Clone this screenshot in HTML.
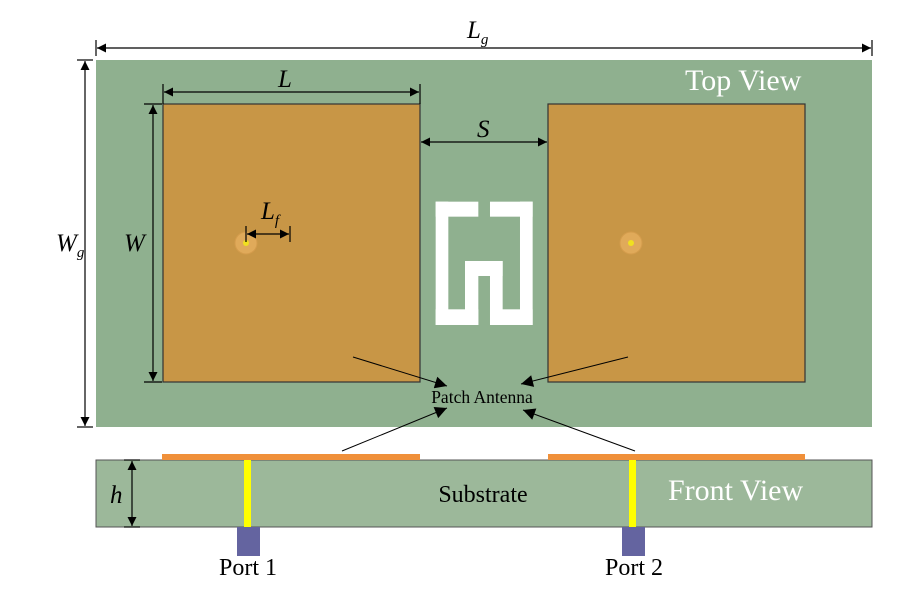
<!DOCTYPE html>
<html><head><meta charset="utf-8"><style>
html,body{margin:0;padding:0;background:#fff;}
svg{display:block;font-family:"Liberation Serif",serif;}
</style></head><body>
<svg width="900" height="601" viewBox="0 0 900 601" xmlns="http://www.w3.org/2000/svg">
<defs>
<marker id="a" viewBox="0 0 10 10" refX="10" refY="5" markerWidth="9" markerHeight="9" orient="auto-start-reverse" markerUnits="userSpaceOnUse"><path d="M0,0 L10,5 L0,10 z" fill="#000"/></marker>
<marker id="b" viewBox="0 0 10 10" refX="10" refY="5" markerWidth="14" markerHeight="12" orient="auto" markerUnits="userSpaceOnUse"><path d="M0,0 L10,5 L0,10 z" fill="#000"/></marker>
</defs>
<rect x="96" y="60" width="776" height="367" fill="#8fb08f"/>
<rect x="163" y="104" width="257" height="278" fill="#c89646" stroke="#333" stroke-width="1.2"/>
<rect x="548" y="104" width="257" height="278" fill="#c89646" stroke="#333" stroke-width="1.2"/>
<circle cx="246" cy="243" r="11" fill="#e0aa5a" stroke="#d49c4c"/>
<circle cx="246" cy="243" r="3" fill="#f0e020"/>
<circle cx="631" cy="243" r="11" fill="#e0aa5a" stroke="#d49c4c"/>
<circle cx="631" cy="243" r="3" fill="#f0e020"/>
<g transform="translate(420,190) scale(0.3333)" fill="#fff">
<rect x="47" y="35" width="128" height="45"/>
<rect x="210" y="35" width="128" height="45"/>
<rect x="47" y="35" width="38" height="370"/>
<rect x="300" y="35" width="38" height="370"/>
<rect x="47" y="358" width="128" height="47"/>
<rect x="210" y="358" width="128" height="47"/>
<rect x="135" y="213" width="40" height="192"/>
<rect x="210" y="213" width="38" height="192"/>
<rect x="135" y="213" width="113" height="45"/>
</g>
<g stroke="#000" stroke-width="1.2" fill="none">
<line x1="96" y1="40" x2="96" y2="56"/><line x1="872" y1="40" x2="872" y2="56"/>
<line x1="97" y1="48" x2="871" y2="48" marker-start="url(#a)" marker-end="url(#a)"/>
<line x1="77" y1="60" x2="93" y2="60"/><line x1="77" y1="427" x2="93" y2="427"/>
<line x1="85" y1="61" x2="85" y2="426" marker-start="url(#a)" marker-end="url(#a)"/>
<line x1="163" y1="84" x2="163" y2="104"/><line x1="420" y1="84" x2="420" y2="104"/>
<line x1="164" y1="92" x2="419" y2="92" marker-start="url(#a)" marker-end="url(#a)"/>
<line x1="144" y1="104" x2="162" y2="104"/><line x1="144" y1="382" x2="162" y2="382"/>
<line x1="153" y1="105" x2="153" y2="381" marker-start="url(#a)" marker-end="url(#a)"/>
<line x1="421" y1="142" x2="547" y2="142" marker-start="url(#a)" marker-end="url(#a)"/>
<line x1="246" y1="226" x2="246" y2="242"/><line x1="290" y1="226" x2="290" y2="242"/>
<line x1="247" y1="234" x2="289" y2="234" marker-start="url(#a)" marker-end="url(#a)"/>
</g>
<text x="467" y="38" font-size="25" font-style="italic">L<tspan font-size="15" dy="6">g</tspan></text>
<text x="56" y="251" font-size="25" font-style="italic">W<tspan font-size="15" dy="6">g</tspan></text>
<text x="278" y="87" font-size="25" font-style="italic">L</text>
<text x="124" y="251" font-size="25" font-style="italic">W</text>
<text x="477" y="137" font-size="25" font-style="italic">S</text>
<text x="261" y="219" font-size="25" font-style="italic">L<tspan font-size="15" dy="6">f</tspan></text>
<text x="685" y="90" font-size="30" fill="#fff">Top View</text>
<g stroke="#000" stroke-width="1" fill="none">
<line x1="353" y1="357" x2="447" y2="386" marker-end="url(#b)"/>
<line x1="628" y1="357" x2="521" y2="384" marker-end="url(#b)"/>
<line x1="342" y1="451" x2="447" y2="408" marker-end="url(#b)"/>
<line x1="635" y1="451" x2="523" y2="410" marker-end="url(#b)"/>
</g>
<text x="482" y="403" font-size="17.5" text-anchor="middle">Patch Antenna</text>
<rect x="96" y="460" width="776" height="67" fill="#9cb89a" stroke="#555" stroke-width="1"/>
<rect x="162" y="454" width="258" height="6" fill="#f0903a"/>
<rect x="548" y="454" width="257" height="6" fill="#f0903a"/>
<rect x="244" y="460" width="7" height="67" fill="#ffff00"/>
<rect x="629" y="460" width="7" height="67" fill="#ffff00"/>
<rect x="237" y="527" width="23" height="29" fill="#6464a0"/>
<rect x="622" y="527" width="23" height="29" fill="#6464a0"/>
<g stroke="#000" stroke-width="1.2">
<line x1="124" y1="460" x2="140" y2="460"/><line x1="124" y1="527" x2="140" y2="527"/>
<line x1="132" y1="461" x2="132" y2="526" marker-start="url(#a)" marker-end="url(#a)"/>
</g>
<text x="110" y="503" font-size="25" font-style="italic">h</text>
<text x="483" y="502" font-size="24" text-anchor="middle">Substrate</text>
<text x="668" y="500" font-size="30" fill="#fff">Front View</text>
<text x="248" y="575" font-size="24" text-anchor="middle">Port 1</text>
<text x="634" y="575" font-size="24" text-anchor="middle">Port 2</text>
</svg>
</body></html>
